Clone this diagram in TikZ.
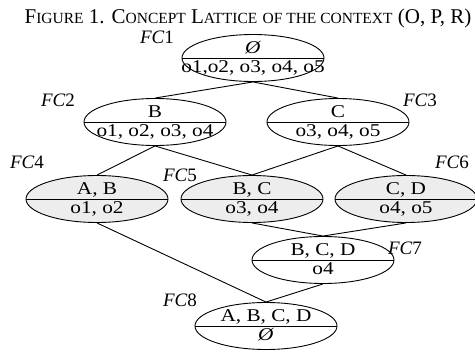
\documentclass[tikz,border=0pt]{standalone}
\usepackage{fontspec}
\setmainfont{Liberation Serif}
\newfontfamily\widefont[FakeStretch=1.18]{Liberation Serif}
\usetikzlibrary{shapes.geometric}
\newcommand{\sm}[1]{{\fontsize{15.5}{17}\selectfont #1}}
\newcommand{\emptymark}{\textit{Ø}}
\tikzset{
  lat/.style={ellipse, draw, line width=0.9pt, minimum width=142pt, minimum height=47pt, inner sep=0pt},
  shaded/.style={fill=black!7},
  txt/.style={anchor=base, inner sep=0pt, font=\widefont\fontsize{18}{19}\selectfont},
  fclab/.style={inner sep=0pt, font=\fontsize{19}{20}\selectfont},
  edge/.style={line width=0.9pt}
}
\begin{document}
\begin{tikzpicture}[x=1pt,y=-1pt]
\useasboundingbox (0,0) rectangle (475,354);
\node[anchor=base, inner sep=0pt, font=\fontsize{21}{24}\selectfont] (title) at (248,23)
  {F\sm{IGURE} 1. C\sm{ONCEPT} L\sm{ATTICE} \sm{OF THE CONTEXT} (O, P, R)};
% nodes
\node[lat] (fc1) at (253,58) {};
\node[lat] (fc2) at (155,122) {};
\node[lat] (fc3) at (338,122) {};
\node[lat,shaded] (fc4) at (97,199) {};
\node[lat,shaded] (fc5) at (252,199) {};
\node[lat,shaded] (fc6) at (406,199) {};
\node[lat] (fc7) at (323,260) {};
\node[lat] (fc8) at (266,326) {};
% edges
\draw[edge] (fc1.south) -- (fc2.north);
\draw[edge] (fc1.south) -- (fc3.north);
\draw[edge] (fc2.south) -- (fc4.north);
\draw[edge] (fc2.south) -- (fc5.north);
\draw[edge] (fc3.south) -- (fc5.north);
\draw[edge] (fc3.south) -- (fc6.north);
\draw[edge] (fc5.south) -- (fc7.north);
\draw[edge] (fc6.south) -- (fc7.north);
\draw[edge] (fc4.south) -- (fc8.north);
\draw[edge] (fc7.south) -- (fc8.north);
% dividing lines
\foreach \n in {fc1,fc2,fc3,fc4,fc5,fc6,fc7,fc8}
  \draw[edge] (\n.west) -- (\n.east);
% texts
\node[txt] (u1) at ([yshift=5pt]fc1.center) {\emptymark};
\node[txt] (l1) at ([yshift=-14pt]fc1.center) {o1,o2, o3, o4, o5};
\node[txt] (u2) at ([yshift=5pt]fc2.center) {B};
\node[txt] (l2) at ([yshift=-14pt]fc2.center) {o1, o2, o3, o4};
\node[txt] (u3) at ([yshift=5pt]fc3.center) {C};
\node[txt] (l3) at ([yshift=-14pt]fc3.center) {o3, o4, o5};
\node[txt] (u4) at ([yshift=5pt]fc4.center) {A, B};
\node[txt] (l4) at ([yshift=-14pt]fc4.center) {o1, o2};
\node[txt] (u5) at ([yshift=5pt]fc5.center) {B, C};
\node[txt] (l5) at ([yshift=-14pt]fc5.center) {o3, o4};
\node[txt] (u6) at ([yshift=5pt]fc6.center) {C, D};
\node[txt] (l6) at ([yshift=-14pt]fc6.center) {o4, o5};
\node[txt] (u7) at ([yshift=5pt]fc7.center) {B, C, D};
\node[txt] (l7) at ([yshift=-14pt]fc7.center) {o4};
\node[txt] (u8) at ([yshift=5pt]fc8.center) {A, B, C, D};
\node[txt] (l8) at ([yshift=-14pt]fc8.center) {\emptymark};
% labels
\node[fclab] (n1) at (157,37) {\textit{FC}1};
\node[fclab] (n2) at (58,100) {\textit{FC}2};
\node[fclab] (n3) at (420,100) {\textit{FC}3};
\node[fclab] (n4) at (27,162) {\textit{FC}4};
\node[fclab] (n5) at (180,175) {\textit{FC}5};
\node[fclab] (n6) at (452,162) {\textit{FC}6};
\node[fclab] (n7) at (405,248) {\textit{FC}7};
\node[fclab] (n8) at (180,300) {\textit{FC}8};
\end{tikzpicture}
\end{document}
